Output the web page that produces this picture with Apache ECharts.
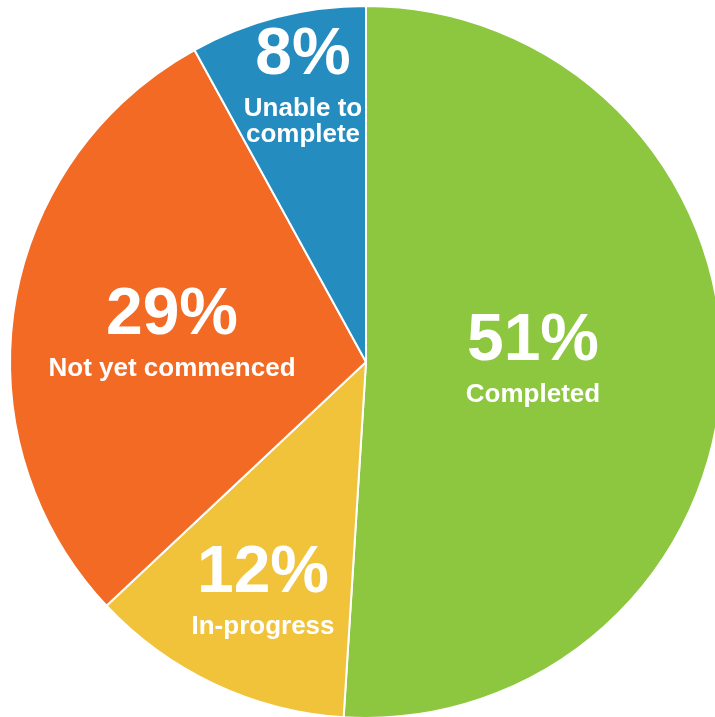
<!DOCTYPE html>
<html>
<head>
<meta charset="utf-8">
<script src="https://cdn.jsdelivr.net/npm/echarts@6/dist/echarts.min.js"></script>
<style>
html,body{margin:0;padding:0;background:#fff;}
#chart{width:715px;height:717px;}
</style>
</head>
<body>
<div id="chart"></div>
<script>
var categories = ['Completed', 'In-progress', 'Not yet commenced', 'Unable to\ncomplete'];
var values = [51, 12, 29, 8];
var colors = ['#8DC63F', '#F0C33B', '#F26A24', '#258CC0'];
// label anchor points (layout only)
var labelPos = [[533, 355], [263, 587], [172, 329], [303, 82]];

var chart = echarts.init(document.getElementById('chart'));
chart.setOption({
  animation: false,
  series: [{
    type: 'pie',
    center: [366, 362],
    radius: [0, 356],
    startAngle: 90,
    clockwise: true,
    avoidLabelOverlap: false,
    data: categories.map(function (c, i) {
      return { name: c, value: values[i], itemStyle: { color: colors[i] } };
    }),
    itemStyle: { borderColor: '#ffffff', borderWidth: 2 },
    label: {
      show: true,
      position: 'inside',
      formatter: function (p) {
        return '{a|' + p.value + '%}\n' + p.name.split('\n').map(function (s) { return '{b|' + s + '}'; }).join('\n');
      },
      align: 'center',
      verticalAlign: 'middle',
      rich: {
        a: { fontFamily: 'Liberation Sans', fontWeight: 'bold', fontSize: 66, lineHeight: 80, color: '#fff', align: 'center' },
        b: { fontFamily: 'Liberation Sans', fontWeight: 'bold', fontSize: 26, lineHeight: 26, color: '#fff', align: 'center' }
      }
    },
    labelLine: { show: false },
    labelLayout: function (p) {
      return { x: labelPos[p.dataIndex][0], y: labelPos[p.dataIndex][1], align: 'center', verticalAlign: 'middle' };
    },
    emphasis: { disabled: true }
  }]
});
</script>
</body>
</html>
